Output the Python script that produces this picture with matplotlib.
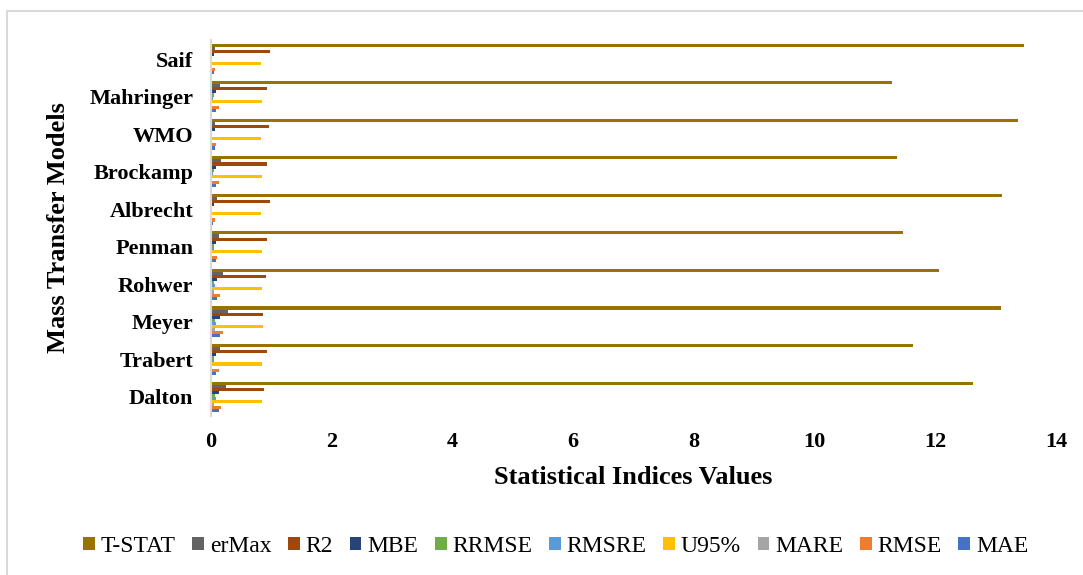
import numpy as np
import matplotlib.pyplot as plt
from matplotlib.patches import Rectangle

plt.rcParams['font.family'] = ['Liberation Serif', 'DejaVu Serif']

# categories bottom -> top (as drawn)
models = ['Dalton', 'Trabert', 'Meyer', 'Rohwer', 'Penman',
          'Albrecht', 'Brockamp', 'WMO', 'Mahringer', 'Saif']

# values per model, same order as models
t_stat = [12.63, 11.63, 13.09, 12.07, 11.46, 13.11, 11.36, 13.37, 11.29, 13.47]
er_max = [0.24, 0.15, 0.28, 0.19, 0.13, 0.10, 0.17, 0.07, 0.15, 0.06]
r2     = [0.88, 0.93, 0.86, 0.91, 0.93, 0.97, 0.93, 0.95, 0.93, 0.97]
mbe    = [0.13, 0.08, 0.15, 0.10, 0.08, 0.04, 0.08, 0.06, 0.08, 0.04]
rrmse  = [0.06, 0.04, 0.06, 0.04, 0.04, 0.02, 0.04, 0.02, 0.04, 0.02]
rmsre  = [0.08, 0.04, 0.08, 0.06, 0.04, 0.02, 0.03, 0.02, 0.03, 0.02]
u95    = [0.85, 0.85, 0.86, 0.85, 0.85, 0.82, 0.85, 0.82, 0.85, 0.82]
mare   = [0.04, 0.02, 0.06, 0.04, 0.02, 0.01, 0.02, 0.01, 0.02, 0.01]
rmse   = [0.17, 0.13, 0.19, 0.15, 0.10, 0.06, 0.13, 0.08, 0.13, 0.06]
mae    = [0.13, 0.08, 0.15, 0.10, 0.08, 0.03, 0.08, 0.06, 0.08, 0.04]

series_names = ['T-STAT', 'erMax', 'R2', 'MBE', 'RRMSE', 'RMSRE', 'U95%', 'MARE', 'RMSE', 'MAE']
series_vals = [t_stat, er_max, r2, mbe, rrmse, rmsre, u95, mare, rmse, mae]
colors = ['#997300', '#636363', '#9E480E', '#264478', '#70AD47',
          '#5B9BD5', '#FFC000', '#A5A5A5', '#ED7D31', '#4472C4']

fig = plt.figure(figsize=(10.83, 5.75), dpi=100)
ax = fig.add_axes([0.195, 0.277, 0.78, 0.653])

# chart border (office style)
fig.patches.append(Rectangle((7 / 1083, -0.1), 1.2, 1 - 11 / 575 + 0.1,
                             transform=fig.transFigure, fill=False,
                             edgecolor='#D9D9D9', linewidth=1.5))

y = np.arange(len(models))
group = 0.82
h = group / len(series_names)
for k, (name, vals, c) in enumerate(zip(series_names, series_vals, colors)):
    off = (len(series_names) / 2 - 0.5 - k) * h
    ax.barh(y + off, vals, height=h, color=c, label=name)

ax.set_xlim(0, 14)
ax.set_ylim(-0.5, len(models) - 0.5)
ax.set_xticks(range(0, 15, 2))
ax.set_yticks(y)
ax.set_yticklabels(models, fontsize=16, fontweight='bold')
for lab in ax.get_xticklabels():
    lab.set_fontsize(16)
    lab.set_fontweight('bold')
ax.tick_params(axis='y', length=0, pad=13)
ax.tick_params(axis='x', length=0, pad=12)

for s in ['top', 'right', 'bottom']:
    ax.spines[s].set_visible(False)
ax.spines['left'].set_color('#D9D9D9')
ax.spines['left'].set_linewidth(1.5)

ax.set_xlabel('Statistical Indices Values', fontsize=19, fontweight='bold', labelpad=10)
ax.set_ylabel('Mass Transfer Models', fontsize=19, fontweight='bold', labelpad=14)

fig.legend(loc='center', bbox_to_anchor=(0.513, 0.05), ncol=10, frameon=False,
           fontsize=17, handlelength=0.5, handleheight=0.5, handletextpad=0.25,
           columnspacing=0.7)

fig.savefig('out.png', dpi=100)
